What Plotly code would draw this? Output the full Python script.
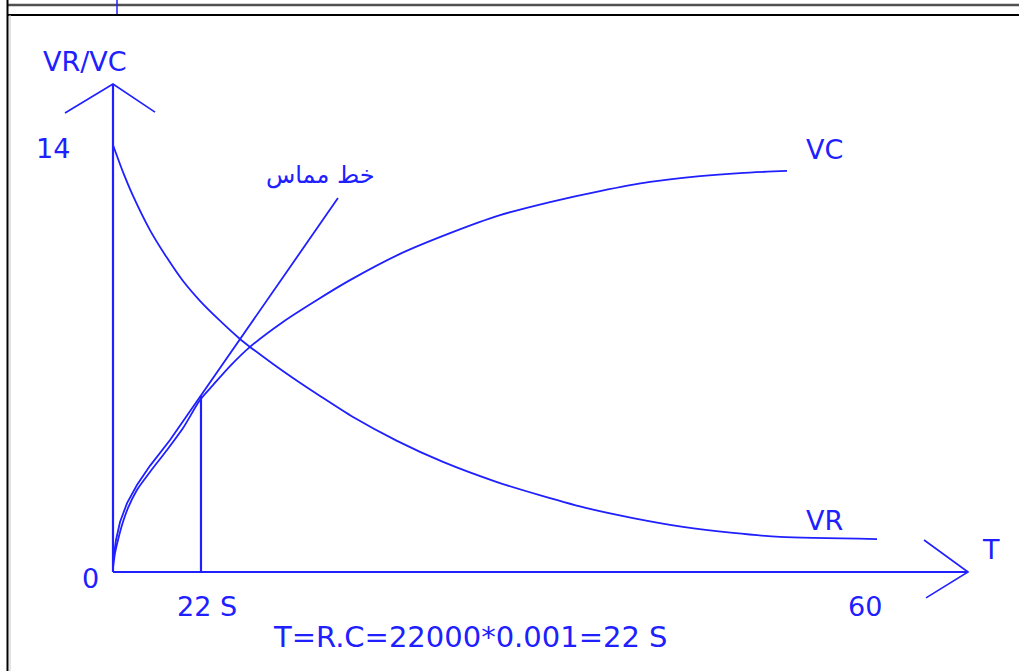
import plotly.graph_objects as go

# ---- data (schematic units: T in seconds-scale, V in volts-scale) ----
vr_t = [0, 0.80, 1.60, 2.95, 4.31, 5.59, 6.94, 8.30, 10.13, 10.93, 12.77, 14.36, 16.52,
        19.15, 22.66, 26.33, 30.64, 34.31, 38.06, 41.49, 45.48, 49.47, 53.22, 60.96]
vr_v = [14.0, 13.11, 12.33, 11.21, 10.30, 9.54, 8.89, 8.33, 7.64, 7.38, 6.82, 6.36, 5.77,
        5.08, 4.30, 3.61, 2.95, 2.49, 2.07, 1.77, 1.48, 1.28, 1.15, 1.08]

vc_t = [0, 0.16, 0.40, 0.72, 1.20, 1.91, 2.95, 4.31, 5.59, 6.94, 7.98, 9.34, 10.93, 13.56,
        16.28, 18.91, 22.90, 26.89, 30.88, 34.87, 38.86, 42.85, 46.84, 50.03, 53.78]
vc_v = [0.13, 0.62, 1.05, 1.54, 2.10, 2.69, 3.28, 4.00, 4.72, 5.64, 6.13, 6.75, 7.38, 8.20,
        8.92, 9.57, 10.43, 11.11, 11.70, 12.13, 12.49, 12.79, 12.98, 13.08, 13.15]

tan_t = [0, 0.24, 0.56, 1.12, 1.91, 2.95, 4.55, 6.94, 17.95]
tan_v = [0.33, 1.05, 1.64, 2.26, 2.85, 3.48, 4.33, 5.74, 12.26]

tau_t = [7.02, 7.02]
tau_v = [0, 5.77]

yaxis_t = [0, 0]
yaxis_v = [0, 16.0]
yarrow_t = [-3.83, 0, 3.35]
yarrow_v = [15.05, 16.0, 15.08]

xaxis_t = [0, 68.22]
xaxis_v = [0, 0]
xarrow_t = [64.71, 68.22, 64.87]
xarrow_v = [1.05, 0, -0.85]

# ---- layout helpers (pixel geometry of the drawing) ----
W, H = 1019, 671
X0, PXT = 113, 752 / 60.0      # pixel of T=0, pixels per T unit
Y0, PXV = 572, 427 / 14.0      # pixel of V=0, pixels per V unit


def dx(px):
    return (px - X0) / PXT


def dy(py):
    return (Y0 - py) / PXV


BLUE = "#2020ff"
fig = go.Figure()


def add_line(x, y, w=1.8, shape="linear"):
    fig.add_trace(go.Scatter(x=x, y=y, mode="lines",
                             line=dict(color=BLUE, width=w, shape=shape, smoothing=0.7),
                             hoverinfo="skip", showlegend=False))


add_line(yaxis_t, yaxis_v, 2.2)
add_line(yarrow_t, yarrow_v, 1.6)
add_line(xaxis_t, xaxis_v, 2.2)
add_line(xarrow_t, xarrow_v, 1.6)
add_line(vr_t, vr_v, 1.8, "spline")
add_line(vc_t, vc_v, 1.8, "spline")
add_line(tan_t, tan_v, 1.8)
add_line(tau_t, tau_v, 2.2)

FONT = "DejaVu Sans"
labels = [
    ("VR/VC", 85, 61, 27),
    ("14", 53, 148, 27),
    ("0", 90, 578, 27),
    ("22 S", 207, 606, 27),
    ("60", 865, 606, 27),
    ("T", 991, 549, 27),
    ("VC", 824, 149, 27),
    ("VR", 824, 520, 27),
    ("T=R.C=22000*0.001=22 S", 470, 637, 29),
    ("خط مماس", 320, 175, 24),
]
for txt, px, py, sz in labels:
    fig.add_annotation(x=dx(px), y=dy(py), xref="x", yref="y", text=txt, showarrow=False,
                       font=dict(family=FONT, size=sz, color=BLUE),
                       xanchor="center", yanchor="middle")

# frame of the original screenshot
shapes = [
    dict(type="line", xref="paper", yref="paper", x0=7 / W, x1=1, y0=1 - 5 / H, y1=1 - 5 / H,
         line=dict(color="#505050", width=2.5)),
    dict(type="line", xref="paper", yref="paper", x0=7 / W, x1=1, y0=1 - 15 / H, y1=1 - 15 / H,
         line=dict(color="#000000", width=2)),
    dict(type="line", xref="paper", yref="paper", x0=7.5 / W, x1=7.5 / W, y0=0, y1=1,
         line=dict(color="#000000", width=2)),
    dict(type="line", xref="paper", yref="paper", x0=10 / W, x1=10 / W, y0=0, y1=1 - 15 / H,
         line=dict(color="#c8c8c8", width=1)),
    dict(type="line", xref="paper", yref="paper", x0=117 / W, x1=117 / W, y0=1, y1=1 - 14 / H,
         line=dict(color=BLUE, width=1.5)),
]

fig.update_layout(
    width=W, height=H,
    margin=dict(l=0, r=0, t=0, b=0),
    paper_bgcolor="white", plot_bgcolor="white",
    xaxis=dict(range=[dx(0), dx(W)], visible=False, fixedrange=True),
    yaxis=dict(range=[dy(H), dy(0)], visible=False, fixedrange=True),
    shapes=shapes,
    showlegend=False,
)

fig.write_html("out.html", config={"displayModeBar": False},
               post_script="document.body.style.margin='0';document.body.style.overflow='hidden';")
